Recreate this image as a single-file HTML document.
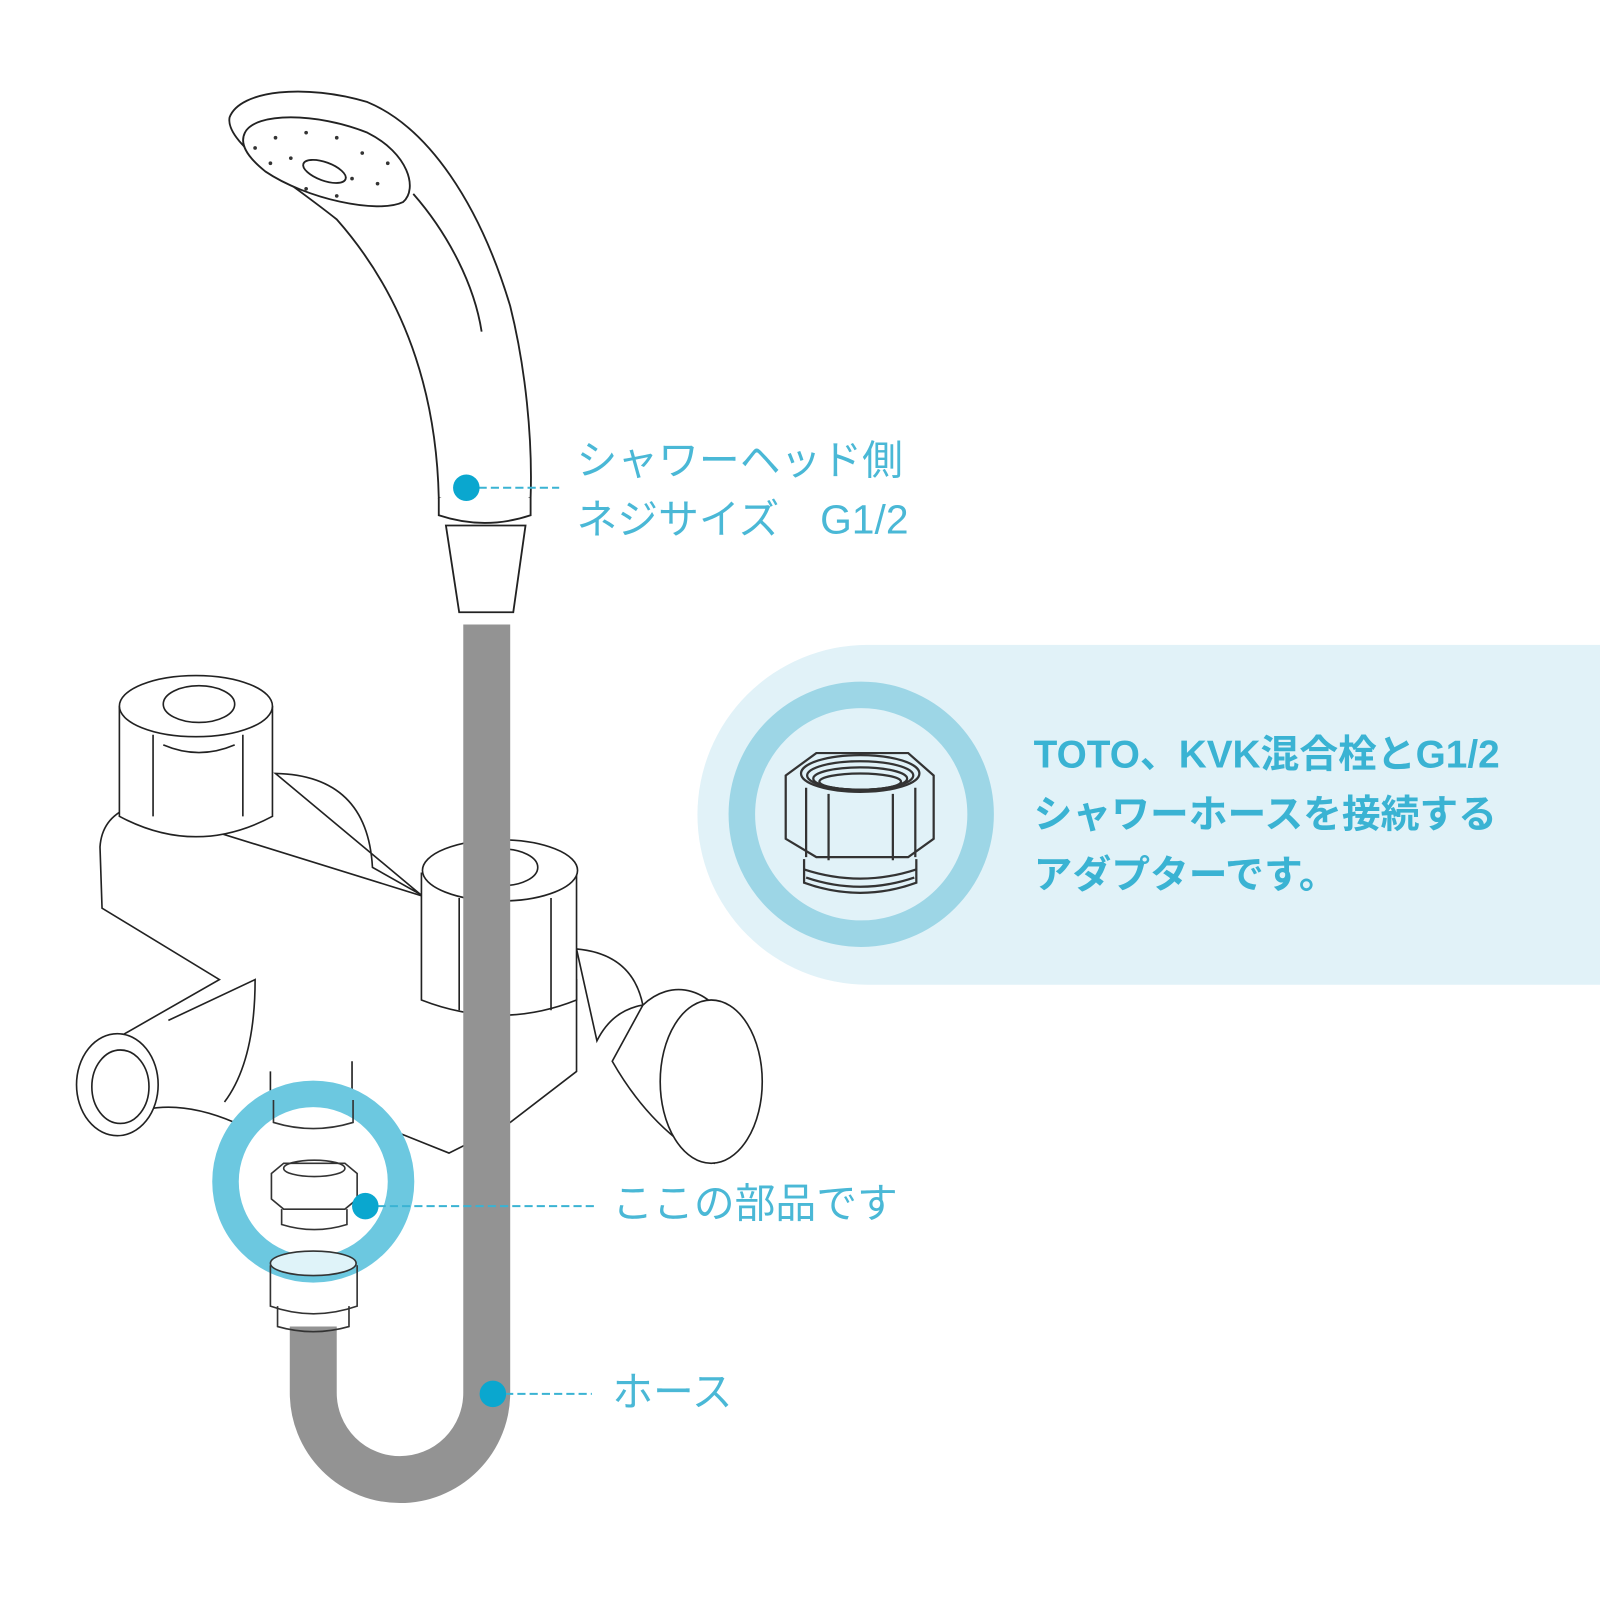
<!DOCTYPE html>
<html><head><meta charset="utf-8"><style>
html,body{margin:0;padding:0;background:#fff}
svg{display:block}
text{font-family:"Liberation Sans","Noto Sans CJK JP",sans-serif}
</style></head><body>
<svg width="1600" height="1600" viewBox="0 0 1568 1568" xmlns="http://www.w3.org/2000/svg">
<rect width="1568" height="1568" fill="#fff"/>
<!-- panel -->
<path d="M850 632 H1568 V965 H850 A166.5 166.5 0 0 1 850 632 Z" fill="#e1f2f8"/>
<circle cx="844" cy="798" r="117" fill="none" stroke="#9dd6e6" stroke-width="26"/>
<!-- adapter big -->
<g fill="none" stroke="#333" stroke-width="2.2">
<path d="M770 760 L800 738 H890 L915 760 V822 L890 840 H800 L770 822 Z"/>
<ellipse cx="843" cy="758" rx="58" ry="18"/>
<ellipse cx="843" cy="760" rx="52" ry="14"/>
<ellipse cx="843" cy="763" rx="46" ry="11"/>
<ellipse cx="843" cy="766" rx="40" ry="8"/>
<path d="M790 772 V840 M812 778 V843 M875 778 V843 M897 772 V840"/>
<path d="M788 842 V865 Q843 885 898 865 V842"/>
<path d="M788 852 Q843 870 898 852 M790 860 Q843 878 896 860"/>
</g>
<text fill="#3ab3d3" font-size="38" font-weight="bold" x="1013" y="752">TOTO、KVK混合栓とG1/2</text>
<text fill="#3ab3d3" font-size="38" font-weight="bold" x="1013" y="811">シャワーホースを接続する</text>
<text fill="#3ab3d3" font-size="38" font-weight="bold" x="1013" y="870">アダプターです。</text>

<!-- faucet -->
<g fill="#fff" stroke="#222" stroke-width="1.6">
<path d="M270 758 Q360 760 365 850 L560 960 L560 1000 Z"/>
<path d="M565 930 Q620 935 630 985 Q600 990 585 1020 Z"/>
<path d="M630 985 A55 80 0 1 1 700 1140 Q640 1110 600 1040 Z"/>
<path d="M98 830 Q100 800 130 790 L420 880 L565 960 V1050 L500 1100 L440 1130 L390 1110 L330 1080 L230 1100 Q160 1070 110 1100 Q80 1080 80 1050 Q80 1020 110 1020 L215 960 L100 890 Z"/>
<ellipse cx="115" cy="1063" rx="40" ry="50"/>
<ellipse cx="118" cy="1065" rx="28" ry="36"/>
<path d="M165 1000 L250 960 Q250 1040 220 1080"/>
<path d="M265 1050 V1080 Q305 1090 345 1080 V1040"/>
<path d="M117 692 V800 Q192 840 267 800 V692"/>
<ellipse cx="192" cy="692" rx="75" ry="30"/>
<ellipse cx="195" cy="690" rx="35" ry="18"/>
<path d="M150 720 V800 M238 720 V800 M160 730 Q195 745 230 730"/>
<path d="M413 855 V980 Q490 1010 565 980 V855"/>
<ellipse cx="490" cy="853" rx="76" ry="30"/>
<ellipse cx="492" cy="850" rx="35" ry="18"/>
<path d="M450 880 V990 M540 880 V990"/>
<ellipse cx="697" cy="1060" rx="50" ry="80"/>
</g>
<!-- hose -->
<path d="M477 612 V1365 A85 85 0 0 1 307 1365 V1300" fill="none" stroke="#939393" stroke-width="46"/>
<!-- shower head -->
<g fill="#fff" stroke="#222" stroke-width="1.8">
<path d="M430 488 C428 400 405 300 330 215 C280 175 220 140 225 115 C235 88 300 82 360 100 C420 125 470 200 500 300 C515 360 522 430 520 488 Q475 505 430 488 Z"/>
<path d="M240 130 C250 110 310 110 360 130 C400 150 410 185 395 198 C370 210 300 195 260 168 C240 152 235 140 240 130 Z"/>
<ellipse cx="318" cy="168" rx="22" ry="9" transform="rotate(20 318 168)"/>
<path d="M405 190 C440 230 465 280 472 325"/>
<path d="M437 515 L450 600 H503 L515 515 Z"/>
<path d="M430 488 V505 Q475 520 520 505 V488"/>
</g>
<g fill="#333">
<circle cx="270" cy="135" r="1.8"/><circle cx="300" cy="130" r="1.8"/><circle cx="330" cy="135" r="1.8"/><circle cx="355" cy="150" r="1.8"/>
<circle cx="285" cy="155" r="1.8"/><circle cx="265" cy="160" r="1.8"/><circle cx="345" cy="175" r="1.8"/><circle cx="370" cy="180" r="1.8"/>
<circle cx="300" cy="185" r="1.8"/><circle cx="330" cy="192" r="1.8"/><circle cx="250" cy="145" r="1.8"/><circle cx="380" cy="160" r="1.8"/>
</g>
<!-- small ring + parts -->
<circle cx="307" cy="1158" r="86" fill="#fff" stroke="#6cc8e0" stroke-width="26"/>
<g fill="none" stroke="#333" stroke-width="1.6">
<path d="M268 1078 V1100 Q307 1112 346 1100 V1078"/>
<path d="M266 1150 L278 1140 H338 L350 1150 V1175 L338 1185 H278 L266 1175 Z"/>
<ellipse cx="308" cy="1145" rx="30" ry="8"/>
<path d="M276 1185 V1200 Q308 1210 340 1200 V1185"/>
<path d="M265 1240 V1280 Q307 1295 350 1280 V1240"/>
<path d="M272 1280 V1300 Q307 1310 342 1300 V1280"/>
</g>
<ellipse cx="307" cy="1238" rx="42" ry="12" fill="#dff3f9" stroke="#333" stroke-width="1.6"/>
<!-- labels -->
<g stroke="#3ab3d3" stroke-width="2" stroke-dasharray="8 4">
<path d="M457 478 H548"/><path d="M358 1182 H582"/><path d="M483 1366 H580"/>
</g>
<g fill="#0aa7cf"><circle cx="457" cy="478" r="13"/><circle cx="358" cy="1182" r="13"/><circle cx="483" cy="1366" r="13"/></g>
<g fill="#4ab8d6" font-size="40">
<text x="565" y="465">シャワーヘッド側</text>
<text x="565" y="523">ネジサイズ　G1/2</text>
<text x="600" y="1193">ここの部品です</text>
<text x="600" y="1378">ホース</text>
</g>
</svg>
</body></html>
